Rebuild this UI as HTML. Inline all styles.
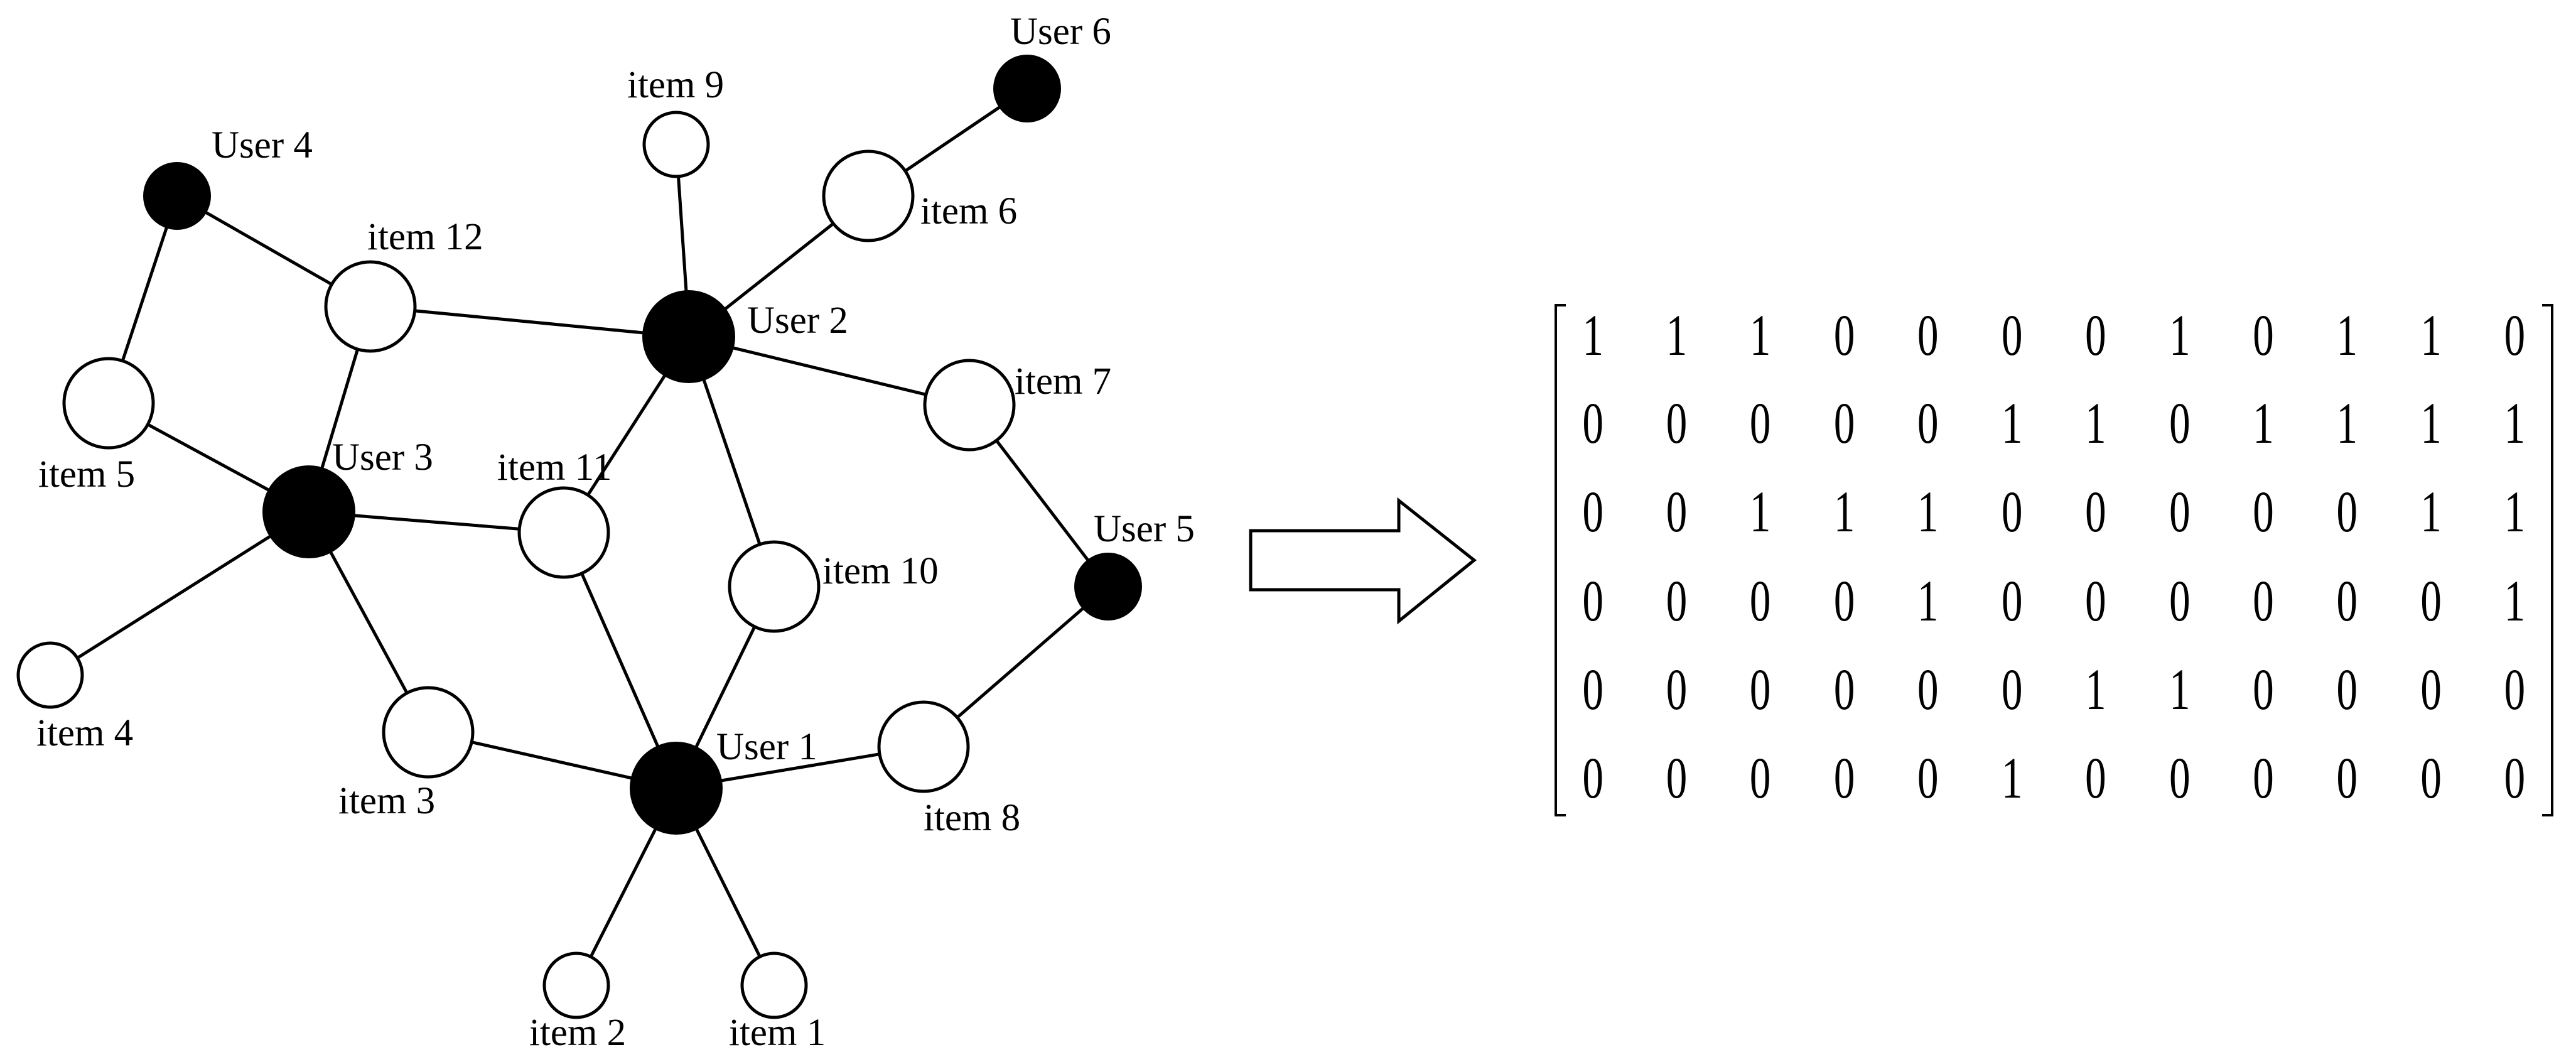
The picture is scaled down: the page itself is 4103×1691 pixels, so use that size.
<!DOCTYPE html>
<html><head><meta charset="utf-8"><style>html,body{margin:0;padding:0;background:#fff}svg{display:block}</style></head>
<body>
<svg width="4103" height="1691" viewBox="0 0 4103 1691" xmlns="http://www.w3.org/2000/svg">
<g stroke="#000" stroke-width="5" fill="none">
<line x1="282" y1="312" x2="590" y2="488"/>
<line x1="282" y1="312" x2="173" y2="642"/>
<line x1="173" y1="642" x2="492" y2="815"/>
<line x1="590" y1="488" x2="492" y2="815"/>
<line x1="590" y1="488" x2="1098" y2="537"/>
<line x1="1077" y1="230" x2="1098" y2="537"/>
<line x1="1383" y1="312" x2="1098" y2="537"/>
<line x1="1383" y1="312" x2="1636" y2="141"/>
<line x1="1098" y1="537" x2="1544" y2="645"/>
<line x1="1098" y1="537" x2="898" y2="848"/>
<line x1="1098" y1="537" x2="1233" y2="934"/>
<line x1="1544" y1="645" x2="1765" y2="934"/>
<line x1="1765" y1="934" x2="1471" y2="1189"/>
<line x1="492" y1="815" x2="898" y2="848"/>
<line x1="492" y1="815" x2="80" y2="1075"/>
<line x1="492" y1="815" x2="682" y2="1166"/>
<line x1="898" y1="848" x2="1077" y2="1255"/>
<line x1="1233" y1="934" x2="1077" y2="1255"/>
<line x1="682" y1="1166" x2="1077" y2="1255"/>
<line x1="1471" y1="1189" x2="1077" y2="1255"/>
<line x1="1077" y1="1255" x2="918" y2="1569"/>
<line x1="1077" y1="1255" x2="1233" y2="1569"/>
</g>
<g stroke="#000" stroke-width="5" fill="#fff">
<circle cx="1077" cy="230" r="51"/>
<circle cx="1383" cy="312" r="71"/>
<circle cx="590" cy="488" r="71"/>
<circle cx="1544" cy="645" r="71"/>
<circle cx="173" cy="642" r="71"/>
<circle cx="898" cy="848" r="71"/>
<circle cx="1233" cy="934" r="71"/>
<circle cx="80" cy="1075" r="51"/>
<circle cx="682" cy="1166" r="71"/>
<circle cx="1471" cy="1189" r="71"/>
<circle cx="918" cy="1569" r="51"/>
<circle cx="1233" cy="1569" r="51"/>
</g>
<g fill="#000">
<circle cx="1636" cy="141" r="54"/>
<circle cx="282" cy="312" r="54"/>
<circle cx="1097" cy="536" r="74"/>
<circle cx="492" cy="815" r="74"/>
<circle cx="1765" cy="934" r="54"/>
<circle cx="1077" cy="1255" r="74"/>
</g>
<g font-family="Liberation Serif, serif" font-size="61" fill="#000">
<text x="1609" y="70">User 6</text>
<text x="999" y="155">item 9</text>
<text x="337" y="251">User 4</text>
<text x="1466" y="356">item 6</text>
<text x="585" y="397">item 12</text>
<text x="1190" y="530">User 2</text>
<text x="1616" y="627">item 7</text>
<text x="61" y="775">item 5</text>
<text x="529" y="748">User 3</text>
<text x="792" y="764">item 11</text>
<text x="1310" y="929">item 10</text>
<text x="1742" y="862">User 5</text>
<text x="58" y="1187">item 4</text>
<text x="539" y="1295">item 3</text>
<text x="1141" y="1209">User 1</text>
<text x="1471" y="1322">item 8</text>
<text x="843" y="1664">item 2</text>
<text x="1161" y="1664">item 1</text>
</g>
<polygon points="1992,845 2228,845 2228,797 2348,892 2228,989 2228,939 1992,939" fill="#fff" stroke="#000" stroke-width="5"/>
<g stroke="#000" stroke-width="4" fill="none">
<polyline points="2494,486 2478,486 2478,1298 2494,1298"/>
<polyline points="4049,486 4065,486 4065,1298 4049,1298"/>
</g>
<g font-family="Liberation Serif, serif" font-size="93" fill="#000" text-anchor="middle" transform="scale(0.72 1)">
<text y="565"><tspan x="3524">1</tspan><tspan x="3709">1</tspan><tspan x="3894">1</tspan><tspan x="4080">0</tspan><tspan x="4265">0</tspan><tspan x="4451">0</tspan><tspan x="4636">0</tspan><tspan x="4822">1</tspan><tspan x="5007">0</tspan><tspan x="5192">1</tspan><tspan x="5378">1</tspan><tspan x="5563">0</tspan></text>
<text y="705"><tspan x="3524">0</tspan><tspan x="3709">0</tspan><tspan x="3894">0</tspan><tspan x="4080">0</tspan><tspan x="4265">0</tspan><tspan x="4451">1</tspan><tspan x="4636">1</tspan><tspan x="4822">0</tspan><tspan x="5007">1</tspan><tspan x="5192">1</tspan><tspan x="5378">1</tspan><tspan x="5563">1</tspan></text>
<text y="846"><tspan x="3524">0</tspan><tspan x="3709">0</tspan><tspan x="3894">1</tspan><tspan x="4080">1</tspan><tspan x="4265">1</tspan><tspan x="4451">0</tspan><tspan x="4636">0</tspan><tspan x="4822">0</tspan><tspan x="5007">0</tspan><tspan x="5192">0</tspan><tspan x="5378">1</tspan><tspan x="5563">1</tspan></text>
<text y="988"><tspan x="3524">0</tspan><tspan x="3709">0</tspan><tspan x="3894">0</tspan><tspan x="4080">0</tspan><tspan x="4265">1</tspan><tspan x="4451">0</tspan><tspan x="4636">0</tspan><tspan x="4822">0</tspan><tspan x="5007">0</tspan><tspan x="5192">0</tspan><tspan x="5378">0</tspan><tspan x="5563">1</tspan></text>
<text y="1129"><tspan x="3524">0</tspan><tspan x="3709">0</tspan><tspan x="3894">0</tspan><tspan x="4080">0</tspan><tspan x="4265">0</tspan><tspan x="4451">0</tspan><tspan x="4636">1</tspan><tspan x="4822">1</tspan><tspan x="5007">0</tspan><tspan x="5192">0</tspan><tspan x="5378">0</tspan><tspan x="5563">0</tspan></text>
<text y="1270"><tspan x="3524">0</tspan><tspan x="3709">0</tspan><tspan x="3894">0</tspan><tspan x="4080">0</tspan><tspan x="4265">0</tspan><tspan x="4451">1</tspan><tspan x="4636">0</tspan><tspan x="4822">0</tspan><tspan x="5007">0</tspan><tspan x="5192">0</tspan><tspan x="5378">0</tspan><tspan x="5563">0</tspan></text>
</g>
</svg>
</body></html>
